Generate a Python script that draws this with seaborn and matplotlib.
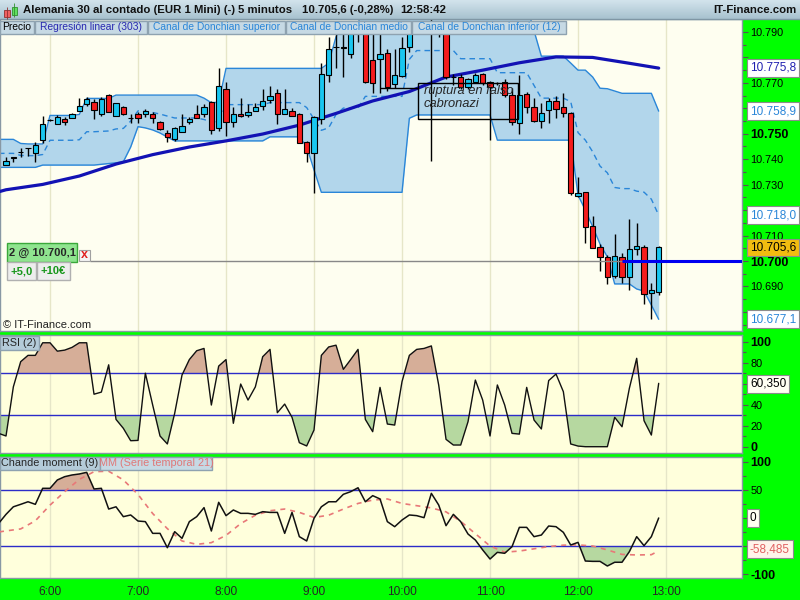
import numpy as np
import pandas as pd
import matplotlib
matplotlib.use("Agg")
import matplotlib.pyplot as plt
import seaborn as sns
from matplotlib.patches import Rectangle
from matplotlib.colors import LinearSegmentedColormap

# ---- values: 5 min bars, bar 0 = 5:30, bar 89 = 12:55 ----
opens = [10.7376, 10.7406, 10.7429, 10.7443, 10.7426, 10.7475, 10.7554, 10.7537, 10.7559, 10.7561,
         10.7591, 10.7617, 10.7625, 10.7576, 10.7651, 10.7570, 10.7604, 10.7561, 10.7576, 10.7578,
         10.7578, 10.7545, 10.7502, 10.7478, 10.7506, 10.7545, 10.7576, 10.7576, 10.7624, 10.7521,
         10.7675, 10.7547, 10.7578, 10.7573, 10.7591, 10.7609, 10.7633, 10.7659, 10.7578, 10.7591,
         10.7576, 10.7468, 10.7426, 10.7557, 10.7731, 10.7840, 10.7840, 10.7813, 10.7915, 10.7925,
         10.7790, 10.7794, 10.7816, 10.7695, 10.7727, 10.7842, 10.7907, 10.7925, 10.7930, 10.7935,
         10.7907, 10.7724, 10.7722, 10.7683, 10.7705, 10.7735, 10.7702, 10.7698, 10.7705, 10.7652,
         10.7541, 10.7655, 10.7604, 10.7551, 10.7593, 10.7629, 10.7604, 10.7580, 10.7257, 10.7270,
         10.7137, 10.7056, 10.7015, 10.6941, 10.7015, 10.6936, 10.7046, 10.7054, 10.6873, 10.6879]
highs = [10.7407, 10.7408, 10.7443, 10.7445, 10.7469, 10.7570, 10.7558, 10.7574, 10.7565, 10.7583,
         10.7639, 10.7646, 10.7635, 10.7646, 10.7655, 10.7622, 10.7610, 10.7576, 10.7587, 10.7596,
         10.7587, 10.7550, 10.7515, 10.7528, 10.7576, 10.7565, 10.7613, 10.7616, 10.7630, 10.7757,
         10.7705, 10.7606, 10.7639, 10.7616, 10.7620, 10.7675, 10.7688, 10.7675, 10.7675, 10.7600,
         10.7580, 10.7470, 10.7570, 10.7777, 10.7881, 10.7910, 10.7910, 10.7930, 10.7935, 10.7935,
         10.7910, 10.7900, 10.7835, 10.7835, 10.7880, 10.7930, 10.7940, 10.7945, 10.7950, 10.7945,
         10.7915, 10.7735, 10.7735, 10.7720, 10.7740, 10.7740, 10.7706, 10.7702, 10.7714, 10.7679,
         10.7731, 10.7665, 10.7639, 10.7621, 10.7639, 10.7648, 10.7659, 10.7587, 10.7331, 10.7272,
         10.7175, 10.7067, 10.7022, 10.7108, 10.7030, 10.7164, 10.7148, 10.7063, 10.6915, 10.7060]
lows = [10.7376, 10.7390, 10.7407, 10.7413, 10.7390, 10.7462, 10.7550, 10.7537, 10.7535, 10.7561,
        10.7591, 10.7609, 10.7559, 10.7570, 10.7584, 10.7570, 10.7575, 10.7541, 10.7541, 10.7567,
        10.7543, 10.7515, 10.7469, 10.7473, 10.7506, 10.7540, 10.7561, 10.7567, 10.7498, 10.7510,
        10.7491, 10.7528, 10.7565, 10.7565, 10.7590, 10.7594, 10.7620, 10.7537, 10.7578, 10.7571,
        10.7465, 10.7390, 10.7268, 10.7540, 10.7705, 10.7757, 10.7724, 10.7796, 10.7860, 10.7700,
        10.7660, 10.7660, 10.7668, 10.7680, 10.7724, 10.7822, 10.7900, 10.7910, 10.7392, 10.7880,
        10.7715, 10.7690, 10.7675, 10.7675, 10.7700, 10.7690, 10.7475, 10.7690, 10.7646, 10.7534,
        10.7500, 10.7583, 10.7547, 10.7523, 10.7543, 10.7561, 10.7567, 10.7259, 10.7250, 10.7069,
        10.7052, 10.6962, 10.6908, 10.6935, 10.6912, 10.6886, 10.7024, 10.6831, 10.6771, 10.6865]
closes = [10.7393, 10.7407, 10.7430, 10.7443, 10.7456, 10.7537, 10.7555, 10.7565, 10.7546, 10.7576,
          10.7609, 10.7638, 10.7593, 10.7635, 10.7584, 10.7620, 10.7578, 10.7562, 10.7561, 10.7591,
          10.7561, 10.7519, 10.7486, 10.7521, 10.7530, 10.7559, 10.7561, 10.7605, 10.7515, 10.7689,
          10.7545, 10.7578, 10.7570, 10.7587, 10.7604, 10.7628, 10.7648, 10.7576, 10.7596, 10.7571,
          10.7465, 10.7426, 10.7567, 10.7735, 10.7832, 10.7842, 10.7838, 10.7915, 10.7925, 10.7705,
          10.7700, 10.7813, 10.7682, 10.7731, 10.7836, 10.7907, 10.7925, 10.7930, 10.7935, 10.7905,
          10.7724, 10.7722, 10.7683, 10.7714, 10.7730, 10.7698, 10.7683, 10.7698, 10.7652, 10.7545,
          10.7652, 10.7604, 10.7551, 10.7580, 10.7629, 10.7596, 10.7580, 10.7266, 10.7266, 10.7132,
          10.7052, 10.7015, 10.6938, 10.7020, 10.6936, 10.7046, 10.7059, 10.6870, 10.6886, 10.7056]

# indicator series start at bar -1 so they reach the left edge
ind_bars = list(range(-1, 90))
dc_upper = ([10.7478] * 3 + [10.7462] + [10.7460] * 3 + [10.7572] * 4 + [10.7576] + [10.7639] * 4
            + [10.7652] * 12 + [10.7640, 10.7622, 10.7624] + [10.7757] * 14 + [10.7777, 10.7881]
            + [10.7932] * 3 + [10.8024] * 7 + [10.8080] * 6 + [10.8016] * 5 + [10.8005] * 5
            + [10.7905] + [10.7805] * 4 + [10.7778, 10.7750, 10.7750, 10.7723, 10.7679, 10.7677, 10.7668]
            + [10.7659] * 5 + [10.7589])
dc_lower = ([10.7368] * 6 + [10.7377] * 8 + [10.7380, 10.7383, 10.7386, 10.7390, 10.7448, 10.7528,
            10.7523, 10.7515, 10.7503, 10.7487] + [10.7472] * 13 + [10.7488] * 5 + [10.7449, 10.7358]
            + [10.7270] * 12 + [10.7561] + [10.7574] * 11 + [10.7475] * 11
            + [10.7259, 10.7200, 10.7135, 10.7067, 10.7016, 10.6910, 10.6910, 10.6910, 10.6890,
               10.6882, 10.6827, 10.6771])
rsi = [12.7, 10.2, 57, 81, 87, 87, 99, 99, 91, 92, 94.6,
       99, 99, 50, 52, 78, 26, 17.5, 5.7, 6, 70,
       39.7, 10.2, 2.6, 31.8, 68.3, 83, 91.4, 93.6, 39.7, 76.8,
       83, 22.3, 59.7, 44.4, 57, 85.7, 92.7, 32.4, 40.6, 28,
       3.8, 0.7, 15.9, 87, 95, 96.7, 73.7, 83, 92.7, 26,
       14.3, 56.5, 21.6, 20.6, 62, 87, 92.7, 93.6, 96, 58.8,
       7, 1.6, 1.6, 23.8, 63.5, 44.4, 10.2, 58.8, 39.7, 12.7,
       12, 56.5, 25.4, 16.9, 63, 69.2, 52.4, 2.6, 0.6, 0,
       0, 0, 0, 28, 19, 55.6, 84.2, 24.8, 11.1, 60.35]
cmo = [-9.5, 6.5, 20, 24.4, 29, 24.4, 53, 53, 67.9, 73.8, 76.8,
       78.6, 81.5, 51.8, 53, 16, 20, 2.4, 5.4, -5.4, -6.5,
       -27.4, -27.4, -53, -24.4, -36.3, -6.5, 2.4, 18.5, -23.2, 28,
       4.2, 14.3, 8.3, 8.3, 6.5, 11.3, 10, 10, -27.4, 10,
       -33.3, -41, -0.6, 20, 29, 29, 42.3, 47, 54, 29,
       39.9, 34, -6.5, -15.5, -3.6, 5.4, 4.2, 0.6, 44, 23.2,
       -13.7, 6.5, -6.5, -28.6, -39.3, -57, -73.2, -61.3, -63, -51.2,
       -16.7, -16.7, -33.3, -30.4, -14.3, -15.5, -25.6, -48.2, -43.5, -76.8,
       -77.4, -77.4, -85.7, -79, -79, -60.1, -33.3, -49.4, -33.3, 0]

reg_bars = [-1, 0, 5, 10, 15, 20, 25, 30, 35, 40, 45, 50, 55, 60, 65, 70, 75, 80, 85, 89]
reg_vals = [10.7272, 10.7280, 10.7301, 10.7334, 10.7381, 10.7418, 10.7448, 10.7472, 10.7499, 10.7534,
            10.7580, 10.7629, 10.7666, 10.7723, 10.7750, 10.7779, 10.7802, 10.7800, 10.7777, 10.7758]

mm_bars = [-1, 0, 2, 4, 6, 8, 10, 12, 14, 16, 18, 20, 22, 24, 26, 28, 30, 32, 34, 36, 38, 40, 42,
           44, 46, 48, 50, 52, 54, 56, 58, 60, 62, 64, 66, 68, 70, 72, 74, 76, 78, 80, 82, 84, 86, 88, 89]
mm_vals = [-25, -23, -19.5, -5, 23, 47, 69, 82.7, 83.5, 68, 42, 8, -19, -41, -47, -44, -31, -10, 5,
           13, 16, 10, 1, 5, 16, 26, 32, 34, 26, 22, 18, 11, -6, -28, -50, -61, -59, -55, -51, -48.5,
           -48, -50, -57, -65, -66, -65.5, -58.485]

hour_bars = [6, 18, 30, 42, 54, 66, 78, 90]
hour_labels = ["6:00", "7:00", "8:00", "9:00", "10:00", "11:00", "12:00", "13:00"]

order_price = 10.7001
note_lines = ["ruptura en falso", "cabronazi"]

# ---- colours ----
GREEN = "#00ff00"
PRICE_BG = "#fefef0"
IND_BG = "#ffffdc"
GRID = "#e6e6c8"
UP = "#19c6f0"
DOWN = "#f51c1c"
CH_FILL = "#b2d6eb"
CH_LINE = "#2a86d8"
REG = "#1212b4"
LEVEL = "#2c2cc8"
HOT = "#d6ae98"
COLD = "#b6d8a0"
SPINE = "#8898a4"

sns.set_theme(style="white")
plt.rcParams["font.family"] = ["Liberation Sans", "DejaVu Sans"]

W, H = 800, 600


def box(x0, y0, x1, y1):
    return [x0 / W, 1 - y1 / H, (x1 - x0) / W, (y1 - y0) / H]


def style_panel(ax, bg):
    ax.set_facecolor(bg)
    for s in ax.spines.values():
        s.set_color(SPINE)
        s.set_linewidth(1)
    ax.set_xlim(-0.82, 100.36)
    ax.yaxis.tick_right()
    ax.tick_params(axis="y", which="both", direction="out", length=4, width=0.8,
                   color="#555555", labelsize=7.8, pad=2, labelcolor="black")
    ax.tick_params(axis="y", which="minor", length=3)
    ax.tick_params(axis="x", length=0)
    for hb in hour_bars:
        ax.axvline(hb, color=GRID, lw=1, zorder=0)


def finish_labels(ax, labels, bold):
    # labels hidden behind the last-value boxes are left blank
    ax.set_yticklabels(labels)
    for lbl in ax.get_yticklabels():
        if lbl.get_text() in bold:
            lbl.set_fontweight("bold")
            lbl.set_fontsize(9)
    ax.set_xlabel("")
    ax.set_ylabel("")


df = pd.DataFrame({"bar": ind_bars, "upper": dc_upper, "lower": dc_lower, "rsi": rsi, "cmo": cmo})
df["mid"] = (df["upper"] + df["lower"]) / 2

fig = plt.figure(figsize=(8, 6), dpi=100, facecolor=GREEN)

# ---------------- price panel ----------------
ax = fig.add_axes(box(0, 19, 742, 331))
style_panel(ax, PRICE_BG)
ax.set_ylim(10.6725, 10.7951)
ax.fill_between(df["bar"], df["lower"], df["upper"], color=CH_FILL, lw=0, zorder=1)
sns.lineplot(data=df, x="bar", y="upper", ax=ax, color=CH_LINE, lw=1, estimator=None, zorder=2)
sns.lineplot(data=df, x="bar", y="lower", ax=ax, color=CH_LINE, lw=1, estimator=None, zorder=2)
sns.lineplot(data=df, x="bar", y="mid", ax=ax, color=CH_LINE, lw=1, estimator=None, zorder=2,
             linestyle=(0, (4, 3)))
sns.lineplot(x=reg_bars, y=reg_vals, ax=ax, color=REG, lw=2.3, estimator=None, zorder=3)

bars = np.arange(len(opens))
o = np.array(opens)
c = np.array(closes)
ax.vlines(bars, lows, highs, color="black", lw=1, zorder=4)
ax.bar(bars, np.maximum(np.abs(c - o), 0.00008), bottom=np.minimum(o, c), width=0.7,
       color=np.where(c >= o, UP, DOWN), edgecolor="black", lw=0.8, zorder=5)

# pending order line
ax.hlines(order_price, 11.45, 84, color="#888888", lw=1, zorder=6)
ax.hlines(order_price, 84, 100.36, color="#0000f0", lw=2.2, zorder=6)

# hand drawn note
ax.hlines(10.7680, 51, 56.2, color="black", lw=1, zorder=7)
ax.add_patch(Rectangle((56.2, 10.7558), 13.6, 0.0141, fill=False, ec="black", lw=1, zorder=7))
ax.text(57.0, 10.7690, note_lines[0], fontsize=9.3, fontstyle="italic", va="top", zorder=8)
ax.text(57.0, 10.7640, note_lines[1], fontsize=9.3, fontstyle="italic", va="top", zorder=8)

pticks = np.round(np.arange(10.68, 10.795, 0.01), 3)
ax.set_yticks(pticks)
ax.set_yticks(np.round(np.arange(10.675, 10.795, 0.005), 3), minor=True)
ax.set_xticks([])
covered = (10.68, 10.72, 10.76, 10.78)
finish_labels(ax, ["" if v in covered else f"{v:.3f}" for v in pticks], ["10.750", "10.700"])

# ---------------- RSI panel ----------------
ax_r = fig.add_axes(box(0, 335, 742, 453))
style_panel(ax_r, IND_BG)
ax_r.set_ylim(-6, 106.4)
r = df["rsi"].to_numpy()
ax_r.fill_between(df["bar"], r, 70, where=r >= 70, interpolate=True, color=HOT, lw=0, zorder=1)
ax_r.fill_between(df["bar"], r, 30, where=r <= 30, interpolate=True, color=COLD, lw=0, zorder=1)
ax_r.axhline(70, color=LEVEL, lw=1, zorder=2)
ax_r.axhline(30, color=LEVEL, lw=1, zorder=2)
sns.lineplot(data=df, x="bar", y="rsi", ax=ax_r, color="#111111", lw=1, estimator=None, zorder=3)
ax_r.set_yticks([0, 20, 40, 60, 80, 100])
ax_r.set_yticks(np.arange(10, 100, 20), minor=True)
ax_r.set_xticks([])
finish_labels(ax_r, ["0", "20", "40", "", "80", "100"], ["0", "100"])

# ---------------- Chande panel ----------------
ax_c = fig.add_axes(box(0, 457, 742, 578))
style_panel(ax_c, IND_BG)
ax_c.set_ylim(-107.1, 108.9)
m = df["cmo"].to_numpy()
ax_c.fill_between(df["bar"], m, 50, where=m >= 50, interpolate=True, color=HOT, lw=0, zorder=1)
ax_c.fill_between(df["bar"], m, -50, where=m <= -50, interpolate=True, color=COLD, lw=0, zorder=1)
ax_c.axhline(50, color=LEVEL, lw=1, zorder=2)
ax_c.axhline(-50, color=LEVEL, lw=1, zorder=2)
sns.lineplot(x=mm_bars, y=mm_vals, ax=ax_c, color="#e87878", lw=1.2, estimator=None,
             linestyle=(0, (3, 3)), zorder=3)
sns.lineplot(data=df, x="bar", y="cmo", ax=ax_c, color="#111111", lw=1.1, estimator=None, zorder=4)
ax_c.set_yticks([-100, -50, 0, 50, 100])
ax_c.set_yticks([-75, -25, 25, 75], minor=True)
ax_c.set_xticks(hour_bars)
ax_c.set_xticklabels(hour_labels, fontsize=8.6)
ax_c.tick_params(axis="x", pad=6)
finish_labels(ax_c, ["-100", "", "", "50", "100"], ["-100", "100"])

# ---------------- overlay in pixel coordinates ----------------
ov = fig.add_axes([0, 0, 1, 1], zorder=10)
ov.patch.set_alpha(0)
grad = LinearSegmentedColormap.from_list("bar", ["#d2e3ec", "#a8c2cf"])
ov.imshow(np.linspace(0, 1, 20).reshape(-1, 1), extent=[0, 800, 19, 0], aspect="auto", cmap=grad)
ov.set_xlim(0, 800)
ov.set_ylim(600, 0)
ov.axis("off")
ov.hlines(19, 0, 800, color="#7f96a4", lw=1)

# title bar
ov.add_patch(Rectangle((3.5, 10), 6, 6.5, fc="#f06060", ec="#903030", lw=0.6))
ov.vlines(6.5, 7, 18.5, color="#903030", lw=0.6)
ov.add_patch(Rectangle((11.5, 6.5), 5.5, 8.5, fc="#60e060", ec="#309030", lw=0.6))
ov.vlines(14.2, 3, 17, color="#309030", lw=0.6)
tkw = dict(fontsize=8.2, fontweight="bold", va="center", color="#111111")
ov.text(23, 10, "Alemania 30 al contado (EUR 1 Mini) (-)", **tkw)
ov.text(238, 10, "5 minutos", **tkw)
ov.text(302, 10, "10.705,6 (-0,28%)", **tkw)
ov.text(400, 10, "12:58:42", **tkw)
ov.text(797, 10, "IT-Finance.com", ha="right", **tkw)

# legend row
legend = [("Precio", 0, 34, "black"),
          ("Regresión linear (303)", 35, 147, "#2828b0"),
          ("Canal de Donchian superior", 148, 285, CH_LINE),
          ("Canal de Donchian medio", 286, 411, CH_LINE),
          ("Canal de Donchian inferior (12)", 412, 566, CH_LINE)]
for name, x0, x1, col in legend:
    ov.add_patch(Rectangle((x0, 20.5), x1 - x0, 13.5, fc="#c6d9e4", ec="#8ea2b0", lw=1))
    ov.text((x0 + x1) / 2, 27.5, name, fontsize=7.4, color=col, va="center", ha="center")

# indicator name tags
ov.add_patch(Rectangle((0, 336), 39, 14, fc="#b4cbd9", ec="#8ea2b0", lw=1))
ov.text(19.5, 343, "RSI (2)", fontsize=7.8, va="center", ha="center")
ov.add_patch(Rectangle((0, 457), 100, 13, fc="#b4cbd9", ec="#8ea2b0", lw=1))
ov.text(50, 463.5, "Chande moment (9)", fontsize=7.8, va="center", ha="center")
ov.add_patch(Rectangle((100, 457), 112, 13, fc="#c6d9e4", ec="#8ea2b0", lw=1))
ov.text(156, 463.5, "MM (Serie temporal 21)", fontsize=7.8, va="center", ha="center",
        color="#e07878")

# order widget
ov.add_patch(Rectangle((7, 243), 70, 19, fc="#8fe48f", ec="#3aa83a", lw=1))
ov.text(42, 252.5, "2 @ 10.700,1", fontsize=8, fontweight="bold", ha="center", va="center")
ov.add_patch(Rectangle((79, 250), 11, 11, fc="#f4f4f4", ec="#a0a0a0", lw=0.8))
ov.text(84.5, 255.5, "x", fontsize=9, fontweight="bold", color="#e02020", ha="center", va="center")
for label, x0, x1 in [("+5,0", 7, 36), ("+10€", 37, 70)]:
    ov.add_patch(Rectangle((x0, 262), x1 - x0, 18, fc="#ededed", ec="#b0b0b0", lw=1))
    ov.text((x0 + x1) / 2, 271, label, fontsize=8, fontweight="bold", color="#16961a",
            ha="center", va="center")
ov.text(3, 325, "© IT-Finance.com", fontsize=8, va="center", color="#222222")

# last value boxes on the right scale
vboxes = [("10.775,8", 68, "#2020b0", "white"),
          ("10.758,9", 111, CH_LINE, "white"),
          ("10.718,0", 215, CH_LINE, "white"),
          ("10.705,6", 247.5, "black", "#f2bc10"),
          ("10.677,1", 319, CH_LINE, "white"),
          ("60,350", 384, "black", "#fffff2"),
          ("0", 518, "black", "#fffff2"),
          ("-58,485", 549, "#e06060", "#fff4ea")]
for txt, yy, col, bg in vboxes:
    ov.text(750, yy, txt, fontsize=8.5, color=col, va="center", ha="left",
            bbox=dict(boxstyle="square,pad=0.22", fc=bg, ec="#8c8c8c", lw=0.8))

fig.savefig("out.png", dpi=100, facecolor=GREEN)
